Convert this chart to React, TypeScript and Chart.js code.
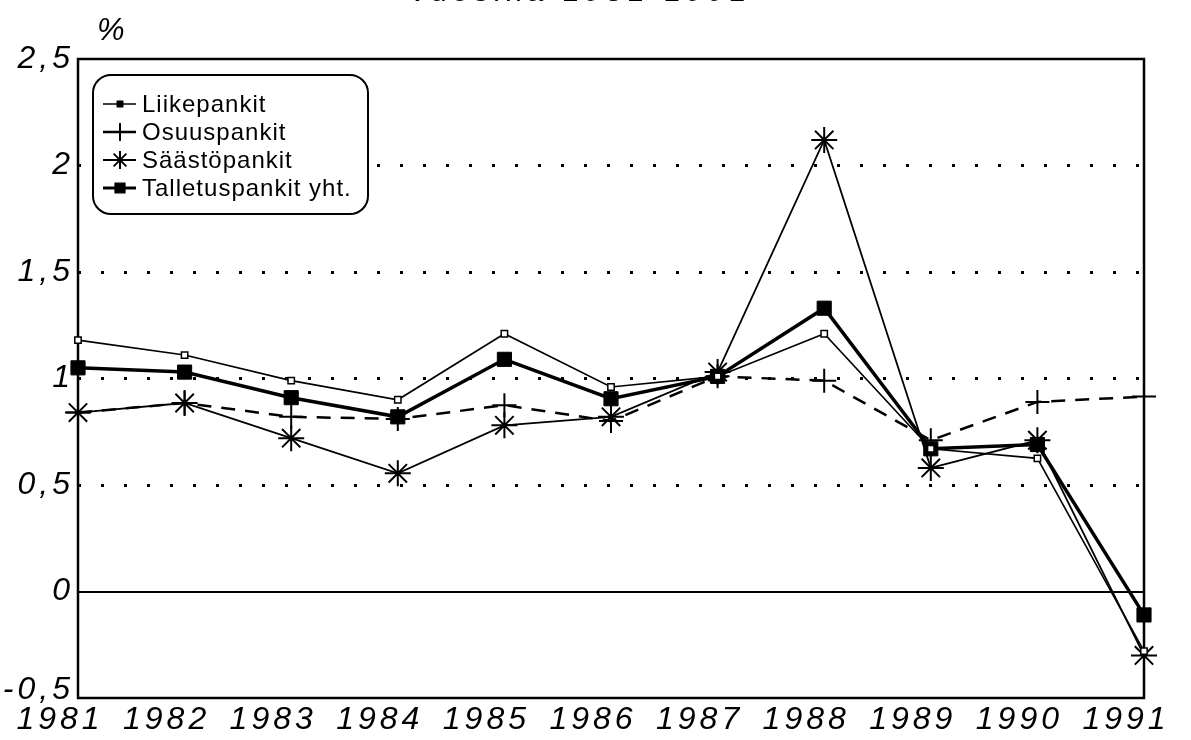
import React, { useEffect, useRef } from 'react';
import { Chart, registerables } from 'chart.js';

Chart.register(...registerables);

const years = ['1981', '1982', '1983', '1984', '1985', '1986', '1987', '1988', '1989', '1990', '1991'];
const liikepankit = [1.18, 1.11, 0.99, 0.9, 1.21, 0.96, 1.01, 1.21, 0.67, 0.625, -0.28];
const osuuspankit = [0.84, 0.885, 0.82, 0.81, 0.875, 0.8, 1.01, 0.99, 0.71, 0.89, 0.915];
const saastopankit = [0.84, 0.885, 0.72, 0.555, 0.78, 0.82, 1.03, 2.12, 0.58, 0.71, -0.3];
const talletuspankit = [1.05, 1.03, 0.91, 0.82, 1.09, 0.905, 1.01, 1.33, 0.67, 0.69, -0.11];
const yMin = -0.5;
const yMax = 2.5;
const yStep = 0.5;
const titleText = 'vuosina 1981-1991';
const unitText = '%';

const drawMarker = (ctx: CanvasRenderingContext2D, style: string, x: number, y: number, r: number, fill: string) => {
  ctx.beginPath();
  if (style === 'rect') {
    const s = Math.SQRT1_2 * r;
    ctx.rect(x - s, y - s, 2 * s, 2 * s);
    ctx.fillStyle = fill;
    ctx.fill();
    ctx.stroke();
  } else if (style === 'cross') {
    ctx.moveTo(x - r, y); ctx.lineTo(x + r, y);
    ctx.moveTo(x, y - r); ctx.lineTo(x, y + r);
    ctx.stroke();
  } else if (style === 'star') {
    ctx.moveTo(x - r, y); ctx.lineTo(x + r, y);
    ctx.moveTo(x, y - r); ctx.lineTo(x, y + r);
    const d = r * Math.SQRT1_2;
    ctx.moveTo(x - d, y - d); ctx.lineTo(x + d, y + d);
    ctx.moveTo(x - d, y + d); ctx.lineTo(x + d, y - d);
    ctx.stroke();
  }
};

const decorPlugin = {
  id: 'decor',
  beforeDraw(chart: any) {
    (chart.ctx as any).letterSpacing = '4px';
  },
  beforeDatasetsDraw(chart: any) {
    const { ctx, chartArea } = chart;
    ctx.save();
    ctx.strokeStyle = '#000';
    ctx.lineWidth = 2.5;
    ctx.strokeRect(chartArea.left, chartArea.top, chartArea.right - chartArea.left, chartArea.bottom - chartArea.top);
    ctx.restore();
  },
  afterDraw(chart: any) {
    const { ctx } = chart;
    ctx.save();
    ctx.fillStyle = '#000';
    // title (cut off at the top)
    (ctx as any).letterSpacing = '5px';
    ctx.font = '30px "Liberation Sans", Arial, sans-serif';
    ctx.textAlign = 'center';
    ctx.textBaseline = 'alphabetic';
    ctx.fillText(titleText, 580, 1);
    // unit
    (ctx as any).letterSpacing = '0px';
    ctx.font = 'italic 31px "Liberation Sans", Arial, sans-serif';
    ctx.textAlign = 'left';
    ctx.textBaseline = 'middle';
    ctx.fillText(unitText, 97, 31);

    // legend box
    const bx = 93, by = 75, bw = 275, bh = 139, rad = 18;
    ctx.beginPath();
    ctx.moveTo(bx + rad, by);
    ctx.lineTo(bx + bw - rad, by);
    ctx.arcTo(bx + bw, by, bx + bw, by + rad, rad);
    ctx.lineTo(bx + bw, by + bh - rad);
    ctx.arcTo(bx + bw, by + bh, bx + bw - rad, by + bh, rad);
    ctx.lineTo(bx + rad, by + bh);
    ctx.arcTo(bx, by + bh, bx, by + bh - rad, rad);
    ctx.lineTo(bx, by + rad);
    ctx.arcTo(bx, by, bx + rad, by, rad);
    ctx.closePath();
    ctx.fillStyle = '#fff';
    ctx.fill();
    ctx.strokeStyle = '#000';
    ctx.lineWidth = 2;
    ctx.stroke();

    const markerStyles = ['rect', 'cross', 'star', 'rect'];
    const markerSizes = [3.5, 9, 9, 6.5];
    const markerFills = ['#000', '#000', '#000', '#000'];
    chart.data.datasets.forEach((ds: any, i: number) => {
      const y = by + 29 + i * 28;
      ctx.strokeStyle = '#000';
      ctx.lineWidth = Math.min(ds.borderWidth, 3);
      ctx.setLineDash([]);
      ctx.beginPath();
      ctx.moveTo(103, y);
      ctx.lineTo(136, y);
      ctx.stroke();
      ctx.lineWidth = 2;
      drawMarker(ctx, markerStyles[i], 120, y, markerSizes[i], markerFills[i]);
      ctx.fillStyle = '#000';
      (ctx as any).letterSpacing = '1px';
      ctx.font = '24px "Liberation Sans", Arial, sans-serif';
      ctx.textAlign = 'left';
      ctx.textBaseline = 'middle';
      ctx.fillText(ds.label, 142, y + 1);
    });
    ctx.restore();
    (ctx as any).letterSpacing = '0px';
  },
};

export default function App() {
  const canvasRef = useRef<HTMLCanvasElement | null>(null);

  useEffect(() => {
    if (!canvasRef.current) return;
    const fontFamily = '"Liberation Sans", Arial, sans-serif';
    const tickFont = { family: fontFamily, size: 32, style: 'italic' as const, lineHeight: 1 };
    const chart = new Chart(canvasRef.current, {
      type: 'line',
      data: {
        labels: years,
        datasets: [
          {
            label: 'Liikepankit',
            data: liikepankit,
            borderColor: '#000',
            borderWidth: 1.6,
            pointStyle: 'rect',
            pointRadius: 4.5,
            pointBackgroundColor: '#fff',
            pointBorderColor: '#000',
            pointBorderWidth: 1.5,
            clip: false,
          },
          {
            label: 'Osuuspankit',
            data: osuuspankit,
            borderColor: '#000',
            borderWidth: 2.5,
            borderDash: [14, 10],
            pointStyle: 'cross',
            pointRadius: 12,
            pointBorderColor: '#000',
            pointBorderWidth: 2,
            clip: false,
          },
          {
            label: 'Säästöpankit',
            data: saastopankit,
            borderColor: '#000',
            borderWidth: 1.8,
            pointStyle: 'star',
            pointRadius: 13,
            pointBorderColor: '#000',
            pointBorderWidth: 2,
            clip: false,
          },
          {
            label: 'Talletuspankit yht.',
            data: talletuspankit,
            borderColor: '#000',
            borderWidth: 3.5,
            pointStyle: 'rect',
            pointRadius: 10,
            pointBackgroundColor: '#000',
            pointBorderColor: '#000',
            pointBorderWidth: 1,
            clip: false,
          },
        ],
      },
      options: {
        animation: false,
        responsive: true,
        maintainAspectRatio: false,
        layout: { padding: { left: 0, top: 59, right: 47, bottom: 0 } },
        plugins: { legend: { display: false }, title: { display: false }, tooltip: { enabled: false } },
        elements: { line: { tension: 0 } },
        scales: {
          x: {
            type: 'category',
            offset: false,
            grid: { display: false, drawTicks: false },
            border: { display: false },
            ticks: {
              color: '#000',
              font: tickFont,
              autoSkip: false,
              maxRotation: 0,
              minRotation: 0,
              padding: 6,
              labelOffset: -18,
            },
            afterFit: (scale: any) => { scale.height = 42; },
          },
          y: {
            type: 'linear',
            position: 'left',
            min: yMin,
            max: yMax,
            grid: {
              drawTicks: false,
              lineWidth: 3,
              color: (c: any) => {
                const v = c.tick ? c.tick.value : 0;
                return v === 0 || v === yMin || v === yMax ? 'rgba(0,0,0,0)' : '#000';
              },
            },
            border: { display: false, dash: [3, 20] },
            ticks: {
              stepSize: yStep,
              color: '#000',
              font: (c: any) => ({
                family: fontFamily,
                size: 32,
                style: 'italic',
                lineHeight: c.tick && c.tick.value === yMin ? 0.5 : 1,
              }),
              padding: 4,
              callback: (v: any) => {
                const s = String(v).replace('.', ',');
                return v === yMin ? [s, ''] : s;
              },
            },
            afterFit: (scale: any) => { scale.width = 78; },
          },
          y2: {
            type: 'linear',
            position: 'left',
            min: yMin,
            max: yMax,
            grid: {
              drawTicks: false,
              lineWidth: 2,
              color: (c: any) => (c.tick && c.tick.value === 0 ? '#000' : 'rgba(0,0,0,0)'),
            },
            border: { display: false },
            ticks: { display: false, stepSize: yStep },
            afterFit: (scale: any) => { scale.width = 0; },
          },
        },
      },
      plugins: [decorPlugin],
    });
    return () => chart.destroy();
  }, []);

  return (
    <div style={{ position: 'absolute', left: 0, top: 0, width: 1191, height: 740, background: '#fff' }}>
      <canvas ref={canvasRef} />
    </div>
  );
}
